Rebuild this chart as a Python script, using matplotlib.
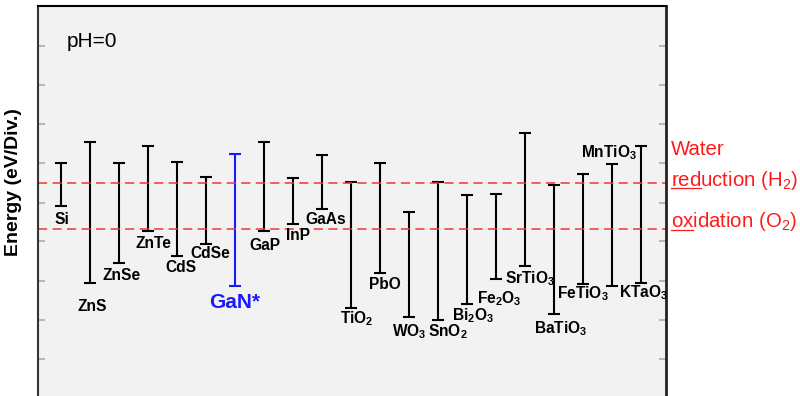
import matplotlib
matplotlib.use("Agg")
import matplotlib.pyplot as plt
from matplotlib.lines import Line2D

plt.rcParams['font.family'] = ['Liberation Sans', 'DejaVu Sans']
plt.rcParams['mathtext.default'] = 'regular'

materials = ['Si', 'ZnS', 'ZnSe', 'ZnTe', 'CdS', 'CdSe', 'GaN*', 'GaP', 'InP', 'GaAs',
             'TiO$_2$', 'PbO', 'WO$_3$', 'SnO$_2$', 'Bi$_2$O$_3$', 'Fe$_2$O$_3$',
             'SrTiO$_3$', 'BaTiO$_3$', 'FeTiO$_3$', 'MnTiO$_3$', 'KTaO$_3$']
# band edges (V vs NHE): conduction band = top of bar, valence band = bottom
cb = [-0.53, -1.10, -0.53, -0.99, -0.56, -0.17, -0.78, -1.08, -0.13, -0.75,
      -0.02, -0.53, 0.78, -0.02, 0.33, 0.29, -1.33, 0.05, -0.24, -0.51, -0.99]
vb = [0.61, 2.67, 2.13, 1.28, 1.95, 1.63, 2.77, 1.30, 1.09, 0.70,
      3.34, 2.41, 3.58, 3.66, 3.25, 2.57, 2.21, 3.51, 2.70, 2.75, 2.68]
h2_level = 0.0
o2_level = 1.23
div_ticks = [-3.67, -2.62, -1.58, -0.53, 0.53, 1.55, 2.62, 3.66, 4.71]

# label placement in pixels relative to the bar end (dx right, dy down)
lab_dx = [1, 3, 3, 6, 4, 4, 0, 1, 5, 3.5, 6, 4.5, 0, 10, 6, 3.5, 5, 6, 0, -3.5, 2.5]
lab_dy = [14, 24, 13, 13, 12, 10, 16, 14, 12, 10, 11, 12, 15, 12, 11, 20, 13, 15, 10, -11, 10]

fig = plt.figure(figsize=(8, 3.96), dpi=100)
ax = fig.add_axes([38 / 800, 0.0, 628 / 800, 390 / 396])
ax.set_facecolor('#f2f2f2')

x = list(range(len(materials)))
for i in x:
    col = '#1a1aff' if materials[i] == 'GaN*' else 'black'
    mid = (cb[i] + vb[i]) / 2
    half = (vb[i] - cb[i]) / 2
    ax.errorbar([i], [mid], yerr=[[half], [half]], fmt='none', ecolor=col,
                elinewidth=1.5, capsize=4.3, capthick=1.5)
    if materials[i] == 'MnTiO$_3$':
        anchor = cb[i]
    else:
        anchor = vb[i]
    big = materials[i] == 'GaN*'
    ax.annotate(materials[i], xy=(i, anchor), xytext=(lab_dx[i], -lab_dy[i]),
                textcoords='offset pixels', ha='center', va='center',
                fontsize=15 if big else 11.2, fontweight='bold', color=col)

for lvl in (h2_level, o2_level):
    ax.axhline(lvl, color='#f03535', lw=1.1, ls=(0, (6, 3.5)))

ax.set_xlim(-0.78, 20.85)
ax.set_ylim(5.70, -4.73)
ax.set_xticks([])
ax.set_yticks(div_ticks)
ax.set_yticklabels([])
ax.tick_params(axis='y', direction='in', length=5, width=1.2, color='#aaaaaa',
               left=True, right=True)
ax.spines['bottom'].set_visible(False)
ax.spines['left'].set_linewidth(1.5)
ax.spines['left'].set_color('#333333')
ax.spines['top'].set_linewidth(1.5)
ax.spines['right'].set_linewidth(2)
ax.spines['right'].set_color('#222222')

ax.set_ylabel('Energy (eV/Div.)', fontsize=14, fontweight='bold')
ax.yaxis.set_label_coords(-0.026, 0.549)
ax.text(0.046, 0.908, 'pH=0', transform=ax.transAxes, fontsize=15,
        ha='left', va='center')

ytr = ax.get_yaxis_transform()
red = '#ff1a1a'
fs_r = 14.7
ax.annotate('Water', xy=(1, h2_level), xycoords=ytr, xytext=(5, 28),
            textcoords='offset pixels', fontsize=fs_r, color=red, va='baseline',
            annotation_clip=False)
t_red = ax.annotate('reduction (H$_2$)', xy=(1, h2_level), xycoords=ytr,
                    xytext=(5, -3), textcoords='offset pixels', fontsize=fs_r,
                    color=red, va='baseline', annotation_clip=False)
t_ox = ax.annotate('oxidation (O$_2$)', xy=(1, o2_level), xycoords=ytr,
                   xytext=(5, 1.5), textcoords='offset pixels', fontsize=fs_r,
                   color=red, va='baseline', annotation_clip=False)

# underline the first letters ("red", "ox")
fig.canvas.draw()
rend = fig.canvas.get_renderer()
for t, part, lvl in ((t_red, 'red', h2_level), (t_ox, 'ox', o2_level)):
    tmp = ax.annotate(part, xy=(1, lvl), xycoords=ytr, xytext=t.xyann,
                      textcoords='offset pixels', fontsize=fs_r, va='baseline',
                      annotation_clip=False)
    bb = tmp.get_window_extent(rend)
    tmp.remove()
    base = ytr.transform((1, lvl))[1] + t.xyann[1] - 2.5
    p0 = fig.transFigure.inverted().transform((bb.x0, base))
    p1 = fig.transFigure.inverted().transform((bb.x1, base))
    fig.add_artist(Line2D([p0[0], p1[0]], [p0[1], p1[1]], color=red, lw=0.9,
                          transform=fig.transFigure))

fig.savefig('out.png', dpi=100)
